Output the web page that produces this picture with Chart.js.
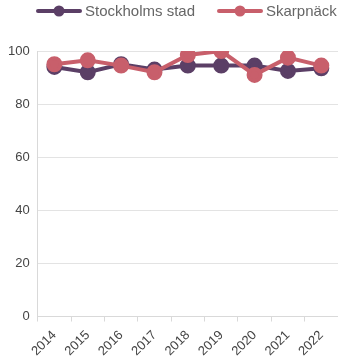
<!DOCTYPE html>
<html><head><meta charset="utf-8">
<script src="https://cdn.jsdelivr.net/npm/chart.js@4/dist/chart.umd.min.js"></script>
<style>html,body{margin:0;padding:0;background:#fff}#wrap{width:338px;height:360px}</style>
</head><body><div id="wrap"><canvas id="c"></canvas></div>
<script>
// årtal och andel (%) per område
const ar=["2014","2015","2016","2017","2018","2019","2020","2021","2022"];
const stockholm=[94,92,95,93,94.5,94.5,94.5,92.5,93.5];
const skarpnack=[95,96.5,94.5,92,98.5,100,91,97.5,94.5];
const yTicks=[0,20,40,60,80,100];
const F="Arial, 'Liberation Sans', sans-serif";
const C={lila:"#5b3f66",rod:"#c85f6b",grid:"#e3e3e3",txt:"#666",tick:"#444"};

// egen legend: linje med punkt + text, ritad ovanför diagrammet
const legendPlugin={id:"egenLegend",afterDraw(ch){
  const ctx=ch.ctx;const pos=[36,217];
  ctx.save();ctx.font="15px "+F;ctx.textBaseline="middle";
  ch.data.datasets.forEach((d,i)=>{
    const x=pos[i],y=11,col=d.borderColor;
    ctx.strokeStyle=col;ctx.lineWidth=4;ctx.lineCap="round";
    ctx.beginPath();ctx.moveTo(x+2,y);ctx.lineTo(x+44,y);ctx.stroke();
    ctx.fillStyle=col;ctx.beginPath();ctx.arc(x+23,y,5.5,0,Math.PI*2);ctx.fill();
    ctx.fillStyle=C.txt;ctx.fillText(d.label,x+49,y+1);
  });
  ctx.restore();
}};

new Chart(document.getElementById("c"),{
  type:"line",
  data:{labels:ar,datasets:[
    {label:"Stockholms stad",data:stockholm,borderColor:C.lila,backgroundColor:C.lila,borderWidth:4,pointRadius:6,pointHoverRadius:6,order:1},
    {label:"Skarpnäck",data:skarpnack,borderColor:C.rod,backgroundColor:C.rod,borderWidth:4,pointRadius:6,pointHoverRadius:6,order:0}
  ]},
  plugins:[legendPlugin],
  options:{
    animation:false,responsive:true,maintainAspectRatio:false,
    layout:{autoPadding:false,padding:{left:0,right:0,top:51,bottom:0}},
    plugins:{tooltip:{enabled:false},legend:{display:false}},
    scales:{
      x:{offset:true,grid:{offset:true,drawOnChartArea:false,drawTicks:true,tickLength:5,color:"#d9d9d9"},border:{color:"#d9d9d9"},
        ticks:{color:C.tick,font:{family:F,size:13},maxRotation:45,minRotation:45,autoSkip:false,padding:6},
        afterFit:s=>{s.paddingRight=0;s.height-=5;}},
      y:{min:0,max:100,afterBuildTicks:ax=>{ax.ticks=yTicks.map(v=>({value:v}));},
        grid:{color:C.grid,drawTicks:false},border:{color:"#d9d9d9"},
        ticks:{color:C.tick,font:{family:F,size:13},padding:8}}
    }
  }
});
</script></body></html>
